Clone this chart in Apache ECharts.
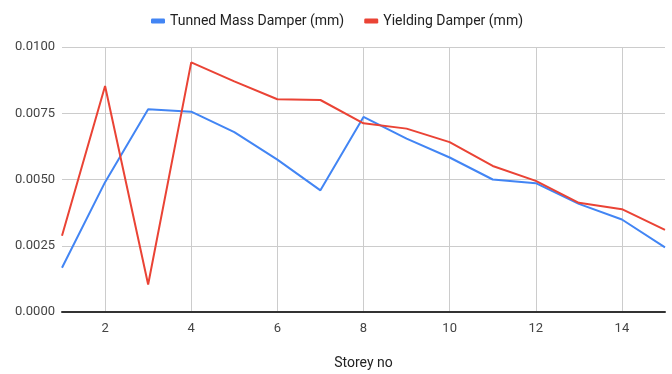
<!DOCTYPE html>
<html>
<head>
<meta charset="utf-8">
<script src="https://cdn.jsdelivr.net/npm/echarts@6/dist/echarts.min.js"></script>
<style>
    html, body {margin: 0; padding: 0; background: #fff;}
    #chart {width: 672px; height: 374px;}
</style>
</head>
<body>
<div id="chart"></div>
<script>
const storeys = [1, 2, 3, 4, 5, 6, 7, 8, 9, 10, 11, 12, 13, 14, 15];
const tmd = [0.00167, 0.0049, 0.00765, 0.00756, 0.00679, 0.00575, 0.00459, 0.00736, 0.00654, 0.00583, 0.0050, 0.00486, 0.00408, 0.00349, 0.00244];
const yielding = [0.00288, 0.00853, 0.00104, 0.00942, 0.0087, 0.00803, 0.0080, 0.00712, 0.00692, 0.00641, 0.00551, 0.00495, 0.00412, 0.00388, 0.0031];
const xTicks = [2, 4, 6, 8, 10, 12, 14];

const pairs = (ys) => storeys.map((x, i) => [x, ys[i]]);

const chart = echarts.init(document.getElementById('chart'));
chart.setOption({
    animation: false,
    textStyle: {fontFamily: 'Roboto, Arial, sans-serif'},
    legend: {
        left: 146,
        top: 9,
        itemWidth: 14,
        itemHeight: 5,
        itemGap: 20,
        itemTextGap: 10,
        icon: 'roundRect',
        textStyle: {fontSize: 14, color: '#222'},
        data: ['Tunned Mass Damper (mm)', 'Yielding Damper (mm)']
    },
    grid: {left: 62, right: 7, top: 47, bottom: 62, outerBoundsMode: 'none'},
    xAxis: {
        type: 'value',
        min: 1,
        max: 15,
        name: 'Storey no',
        nameLocation: 'middle',
        nameGap: 44,
        nameTextStyle: {fontSize: 14, color: '#222'},
        axisLine: {show: true, onZero: false, lineStyle: {color: '#333', width: 2}},
        axisTick: {show: false, customValues: xTicks},
        axisLabel: {customValues: xTicks, fontSize: 13, color: '#444', margin: 10},
        splitLine: {show: true, lineStyle: {color: '#ccc', width: 1}}
    },
    yAxis: {
        type: 'value',
        min: 0,
        max: 0.01,
        interval: 0.0025,
        axisLine: {show: false},
        axisTick: {show: false},
        axisLabel: {fontSize: 13, color: '#444', margin: 7, formatter: v => v.toFixed(4)},
        splitLine: {lineStyle: {color: '#ccc', width: 1}}
    },
    series: [
        {
            name: 'Tunned Mass Damper (mm)',
            type: 'line',
            data: pairs(tmd),
            showSymbol: false,
            color: '#4285F4',
            lineStyle: {width: 2}
        },
        {
            name: 'Yielding Damper (mm)',
            type: 'line',
            data: pairs(yielding),
            showSymbol: false,
            color: '#EA4335',
            lineStyle: {width: 2}
        }
    ]
});
</script>
</body>
</html>
